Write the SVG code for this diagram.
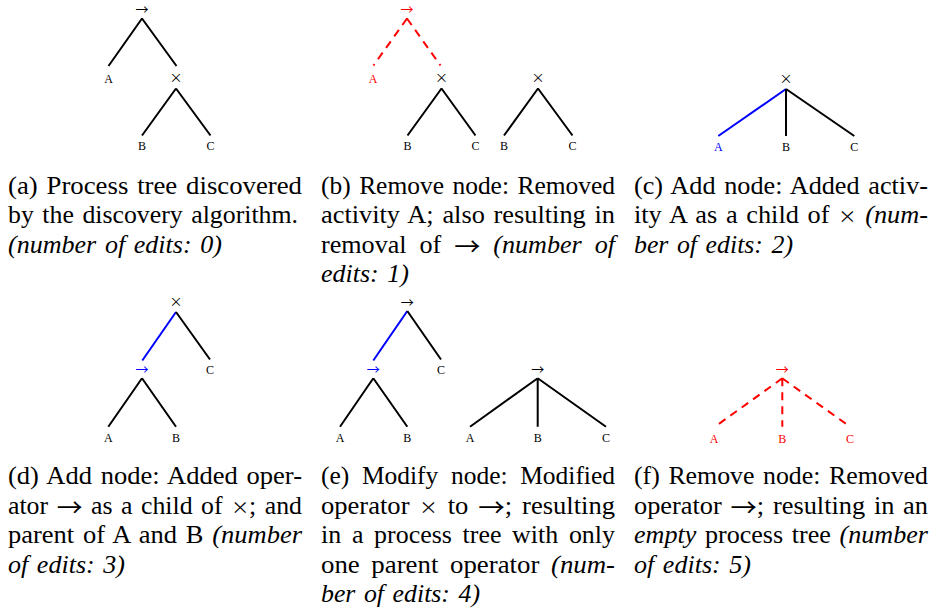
<svg xmlns="http://www.w3.org/2000/svg" width="936" height="609" viewBox="0 0 936 609">
  <style>
    .lbl { font-family: "Liberation Serif", "Times New Roman", serif; font-size: 12px; text-anchor: middle; fill: #000; }
    .sym { font-family: "Noto Sans CJK JP", "DejaVu Sans", sans-serif; font-size: 13px; }
    .red { fill: #ff0000; }
    .blue { fill: #0000ff; }
    .cap { font-family: "Liberation Serif", "Times New Roman", serif; font-size: 24.5px; fill: #000; word-spacing: 2px; }
    .it { font-style: italic; }
    .op { font-family: "Noto Sans CJK JP", "DejaVu Sans", sans-serif; font-style: normal; }
    .arr { font-size: 24.5px; }
    .tim { font-size: 17px; }
    .edge { stroke: #000; stroke-width: 2; fill: none; }
    .edge.add { stroke: #0000ff; }
    .edge.del { stroke: #ff0000; stroke-dasharray: 8 6; }
  </style>
  <rect width="936" height="609" fill="#fff"/>

  <!-- tree edges -->
  <g id="connectors">
    <!-- (a) -->
    <path class="edge" d="M142 18.5 L108.5 66 M142 18.5 L176.5 66 M176 88.5 L142 135.5 M176 88.5 L210.5 135.5"/>
    <!-- (b) -->
    <path class="edge del" d="M407 18.5 L373.5 65.5 M407 18.5 L440.5 65.5"/>
    <path class="edge" d="M441.5 88.5 L407.5 135.5 M441.5 88.5 L475.5 135.5 M538 88.5 L504 135.5 M538 88.5 L572.5 135.5"/>
    <!-- (c) -->
    <path class="edge add" d="M786 89 L718.3 136"/>
    <path class="edge" d="M786 89 L786 136 M786 89 L854.3 136"/>
    <!-- (d) -->
    <path class="edge add" d="M176 312 L142.3 360.5"/>
    <path class="edge" d="M176 312 L210 359.5 M142 378.3 L108.3 426.7 M142 378.3 L176 426.7"/>
    <!-- (e) -->
    <path class="edge add" d="M407.3 311 L373.3 360.5"/>
    <path class="edge" d="M407.3 311 L441 359.5 M373.3 378.3 L340 426.7 M373.3 378.3 L407.3 426.7"/>
    <path class="edge" d="M537.7 378.3 L470 426.7 M537.7 378.3 L537.7 426.7 M537.7 378.3 L606 426.7"/>
    <!-- (f) -->
    <path class="edge del" d="M782.3 378.3 L715 426.7 M782.3 378.3 L782.3 426.7 M782.3 378.3 L850 426.7"/>
  </g>

  <!-- (a) nodes -->
  <g id="a-seq"><text class="lbl sym" x="142" y="14">→</text></g>
  <g id="a-A"><text class="lbl" x="108.5" y="83">A</text></g>
  <g id="a-xor"><text class="lbl sym" x="176" y="82.3">×</text></g>
  <g id="a-B"><text class="lbl" x="142" y="150.3">B</text></g>
  <g id="a-C"><text class="lbl" x="210.5" y="150.3">C</text></g>

  <!-- (b) nodes -->
  <g id="b-seq"><text class="lbl sym red" x="407" y="14">→</text></g>
  <g id="b-A"><text class="lbl red" x="373" y="83">A</text></g>
  <g id="b-xor"><text class="lbl sym" x="441.5" y="82.3">×</text></g>
  <g id="b-B"><text class="lbl" x="407.5" y="150.3">B</text></g>
  <g id="b-C"><text class="lbl" x="475.5" y="150.3">C</text></g>
  <g id="b2-xor"><text class="lbl sym" x="538" y="82.3">×</text></g>
  <g id="b2-B"><text class="lbl" x="504" y="150.3">B</text></g>
  <g id="b2-C"><text class="lbl" x="572.5" y="150.3">C</text></g>

  <!-- (c) nodes -->
  <g id="c-xor"><text class="lbl sym" x="786" y="83.3">×</text></g>
  <g id="c-A"><text class="lbl blue" x="718.3" y="151.3">A</text></g>
  <g id="c-B"><text class="lbl" x="786" y="151.3">B</text></g>
  <g id="c-C"><text class="lbl" x="854.3" y="151.3">C</text></g>

  <!-- (d) nodes -->
  <g id="d-xor"><text class="lbl sym" x="176" y="306">×</text></g>
  <g id="d-seq"><text class="lbl sym blue" x="142" y="374.2">→</text></g>
  <g id="d-C"><text class="lbl" x="210" y="374">C</text></g>
  <g id="d-A"><text class="lbl" x="108.3" y="441.7">A</text></g>
  <g id="d-B"><text class="lbl" x="176" y="441.7">B</text></g>

  <!-- (e) nodes -->
  <g id="e-seq"><text class="lbl sym" x="407.3" y="306.6">→</text></g>
  <g id="e-seq2"><text class="lbl sym blue" x="373.3" y="374.2">→</text></g>
  <g id="e-C"><text class="lbl" x="441" y="374">C</text></g>
  <g id="e-A"><text class="lbl" x="340" y="441.7">A</text></g>
  <g id="e-B"><text class="lbl" x="407.3" y="441.7">B</text></g>
  <g id="e2-seq"><text class="lbl sym" x="537.7" y="374.2">→</text></g>
  <g id="e2-A"><text class="lbl" x="470" y="441.7">A</text></g>
  <g id="e2-B"><text class="lbl" x="537.7" y="441.7">B</text></g>
  <g id="e2-C"><text class="lbl" x="606" y="441.7">C</text></g>

  <!-- (f) nodes -->
  <g id="f-seq"><text class="lbl sym red" x="782.3" y="374.2">→</text></g>
  <g id="f-A"><text class="lbl red" x="714" y="443">A</text></g>
  <g id="f-B"><text class="lbl red" x="782.3" y="443">B</text></g>
  <g id="f-C"><text class="lbl red" x="850" y="443">C</text></g>

  <!-- captions -->
  <g id="captions">
    <text class="cap" x="8" y="193.5" textLength="294" lengthAdjust="spacingAndGlyphs">(a) Process tree discovered</text>
    <text class="cap" x="8" y="223" textLength="290" lengthAdjust="spacingAndGlyphs">by the discovery algorithm.</text>
    <text class="cap it" x="8" y="252.5" textLength="214" lengthAdjust="spacingAndGlyphs">(number of edits: 0)</text>

    <text class="cap" x="321" y="193.5" textLength="294" lengthAdjust="spacingAndGlyphs">(b) Remove node: Removed</text>
    <text class="cap" x="321" y="223" textLength="294" lengthAdjust="spacingAndGlyphs">activity A; also resulting in</text>
    <text class="cap" x="321" y="252.5" textLength="294" lengthAdjust="spacingAndGlyphs" style="word-spacing:6px">removal of <tspan class="op arr" dy="3">→</tspan> <tspan class="it" dy="-3">(number of</tspan></text>
    <text class="cap it" x="321" y="282" textLength="88" lengthAdjust="spacingAndGlyphs">edits: 1)</text>

    <text class="cap" x="634" y="193.5" textLength="294" lengthAdjust="spacingAndGlyphs">(c) Add node: Added activ-</text>
    <text class="cap" x="634" y="223" textLength="294" lengthAdjust="spacingAndGlyphs">ity A as a child of <tspan class="op tim">×</tspan> <tspan class="it">(num-</tspan></text>
    <text class="cap it" x="634" y="252.5" textLength="159" lengthAdjust="spacingAndGlyphs">ber of edits: 2)</text>

    <text class="cap" x="8" y="484" textLength="294" lengthAdjust="spacingAndGlyphs">(d) Add node: Added oper-</text>
    <text class="cap" x="8" y="513.5" textLength="294" lengthAdjust="spacingAndGlyphs">ator <tspan class="op arr" dy="3">→</tspan><tspan dy="-3"> as a child of </tspan><tspan class="op tim">×</tspan>; and</text>
    <text class="cap" x="8" y="543" textLength="294" lengthAdjust="spacingAndGlyphs">parent of A and B <tspan class="it">(number</tspan></text>
    <text class="cap it" x="8" y="572.5" textLength="117" lengthAdjust="spacingAndGlyphs">of edits: 3)</text>

    <text class="cap" x="321" y="484" textLength="294" lengthAdjust="spacingAndGlyphs" style="word-spacing:6px">(e) Modify node: Modified</text>
    <text class="cap" x="321" y="513.5" textLength="294" lengthAdjust="spacingAndGlyphs" style="word-spacing:3px">operator <tspan class="op tim">×</tspan> to <tspan class="op arr" dy="3">→</tspan><tspan dy="-3">; resulting</tspan></text>
    <text class="cap" x="321" y="543" textLength="294" lengthAdjust="spacingAndGlyphs" style="word-spacing:4px">in a process tree with only</text>
    <text class="cap" x="321" y="572.5" textLength="294" lengthAdjust="spacingAndGlyphs" style="word-spacing:4.5px">one parent operator <tspan class="it">(num-</tspan></text>
    <text class="cap it" x="321" y="602" textLength="159" lengthAdjust="spacingAndGlyphs">ber of edits: 4)</text>

    <text class="cap" x="634" y="484" textLength="294" lengthAdjust="spacingAndGlyphs">(f) Remove node: Removed</text>
    <text class="cap" x="634" y="513.5" textLength="294" lengthAdjust="spacingAndGlyphs">operator <tspan class="op arr" dy="3">→</tspan><tspan dy="-3">; resulting in an</tspan></text>
    <text class="cap" x="634" y="543" textLength="294" lengthAdjust="spacingAndGlyphs"><tspan class="it">empty</tspan> process tree <tspan class="it">(number</tspan></text>
    <text class="cap it" x="634" y="572.5" textLength="117" lengthAdjust="spacingAndGlyphs">of edits: 5)</text>
  </g>
</svg>
